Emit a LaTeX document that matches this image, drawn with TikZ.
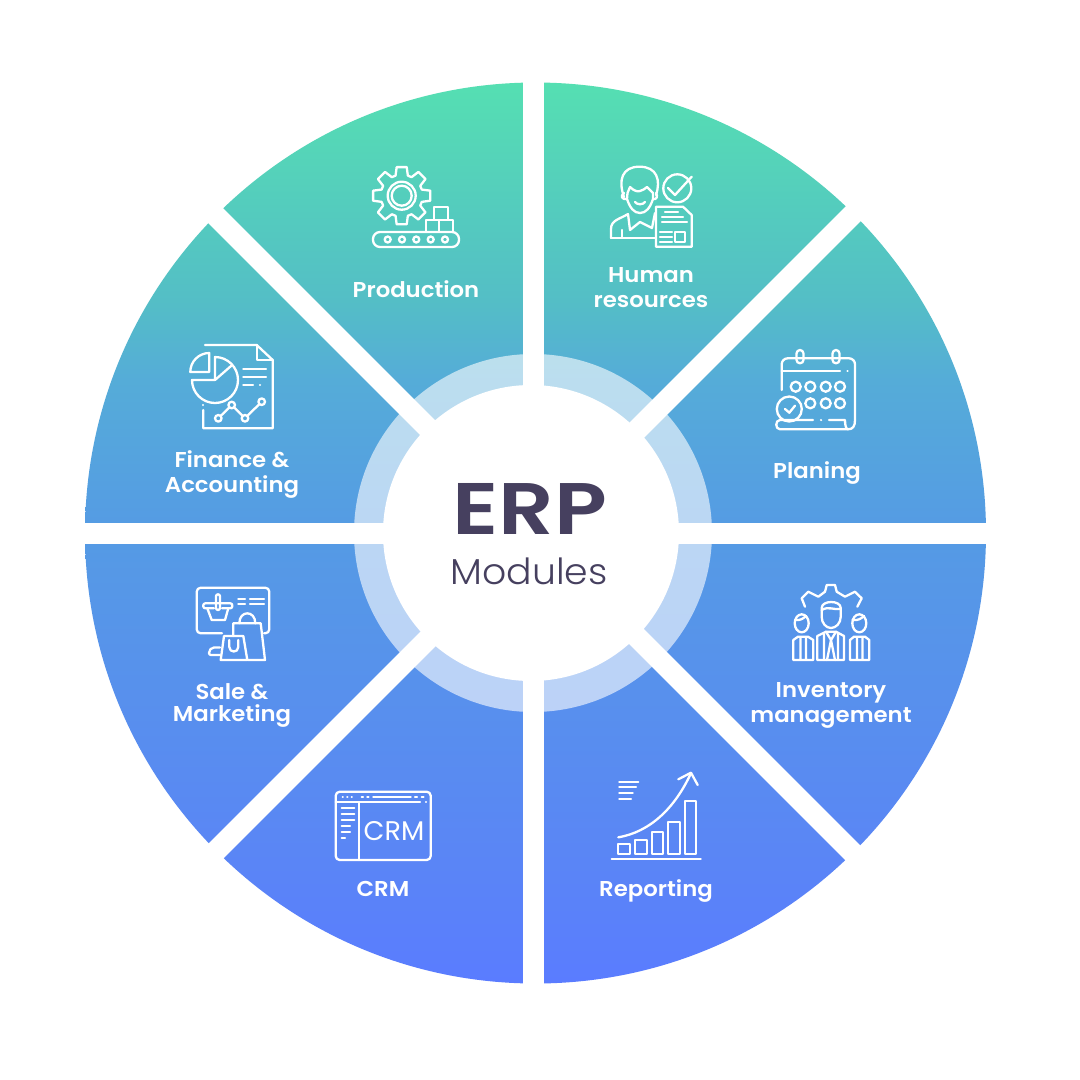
\documentclass[tikz,border=0pt]{standalone}
\usepackage{fontspec}
\setmainfont{Poppins}
\newfontfamily\labfont[FakeStretch=1.06]{Poppins SemiBold}
\newfontfamily\erpfont[FakeStretch=1.19]{Poppins SemiBold}
\newfontfamily\modfont[FakeStretch=1.05]{Poppins Light}
\definecolor{ink}{HTML}{46405F}
\definecolor{ga}{RGB}{90,124,255}
\definecolor{gb}{RGB}{90,134,245}
\definecolor{gc}{RGB}{85,155,228}
\definecolor{gd}{RGB}{85,172,216}
\definecolor{ge}{RGB}{84,190,198}
\definecolor{gf}{RGB}{85,223,178}
\pgfdeclareverticalshading{erpgrad}{100bp}{
  color(0bp)=(ga);
  color(25bp)=(ga);
  color(32.4bp)=(gb);
  color(50.2bp)=(gc);
  color(58.5bp)=(gd);
  color(62.9bp)=(ge);
  color(75bp)=(gf);
  color(100bp)=(gf)}
\tikzset{
  icon/.style={draw=white,line width=2.3pt,line cap=round,line join=round},
  lab/.style={text=white,align=center,inner sep=0pt,font=\labfont\fontsize{21.5}{25}\selectfont},
  gapbar/.style={draw=white,line width=21pt}
}
\begin{document}
\begin{tikzpicture}[x=1pt,y=-1pt]
\fill[white,use as bounding box] (0,0) rectangle (1080,1080);
% disc
\shade[shading=erpgrad] (535.5,533) circle[radius=450.5];
\fill[white,opacity=.6,even odd rule] (533,533) circle[radius=179] (533,533) circle[radius=140];
% gaps
\coordinate (gn) at (533.5,70);
\coordinate (gs) at (533.5,997);
\coordinate (gw) at (70,533.5);
\coordinate (ge) at (997,533.5);
\coordinate (gne) at (865.5,201.5);
\coordinate (gsw) at (201.5,865.5);
\coordinate (gnw) at (201.5,201.5);
\coordinate (gse) at (865.5,865.5);
\draw[gapbar] (gn) -- (gs);
\draw[gapbar] (gw) -- (ge);
\draw[gapbar] (gne) -- (gsw);
\draw[gapbar] (gnw) -- (gse);
\fill[white] (531,533) circle[radius=148];
% centre
\node[text=ink,inner sep=0pt,font=\erpfont\fontsize{73}{73}\selectfont] (erp) at (530,509) {ERP};
\node[text=ink,inner sep=0pt,font=\modfont\fontsize{36}{36}\selectfont] (mod) at (529,571) {Modules};
% labels
\node[lab] (l1) at (416,289) {Production};
\node[lab] (l2) at (651,287.5) {Human\\resources};
\node[lab] (l3) at (817,473) {Planing};
\node[lab] (l4) at (831,705) {Inventory\\management};
\node[lab] (l5) at (656,891) {Reporting};
\node[lab] (l6) at (383,889) {CRM};
\node[lab] (l7) at (232,705.5) {Sale \&\\[-3pt]Marketing};
\node[lab] (l8) at (232,474.5) {Finance \&\\Accounting};
% Production icon
\draw[icon] (401.7,195.7) circle[radius=14] (401.7,195.7) circle[radius=10];
\draw[icon,shift={(401.7,195.7)}] (-17:21) \foreach \a in {0,45,...,315}{
  -- (\a-10:29) -- (\a+10:29) -- (\a+17:21) -- (\a+28:21)} -- cycle;
\draw[icon] (434,207) rectangle (448,220) (426,220) rectangle (439,232) (439,220) rectangle (453,232);
\draw[icon,rounded corners=7pt] (373,232) rectangle (459,247);
\foreach \x in {387.7,402,416.3,430.7,445}{\draw[icon] (\x,239.5) circle[radius=3];}
% Human resources icon
\draw[icon] (624,197) .. controls (618,180) and (622,166.7) .. (639.5,166.7) .. controls (657,166.7) and (661,180) .. (656,195);
\draw[icon] (624,193) .. controls (620,196) and (622,200) .. (627,199) .. controls (630,208) and (634,213) .. (640,213) .. controls (646,213) and (650,208) .. (653,199) .. controls (657,200) and (658,196) .. (656,193);
\draw[icon] (627,199) -- (627.5,193) -- (630,187) .. controls (634,191) and (638,192) .. (640,191) .. controls (643,191) and (645,188) .. (647,187) -- (653,193) -- (653,199);
\draw[icon] (635,202) .. controls (637,205) and (643,205) .. (645,202);
\draw[icon] (611,238) -- (611,229) .. controls (611,220) and (620,219) .. (628,214);
\draw[icon] (628,214) -- (630,230) -- (640,222) -- (652,228) -- (655,213);
\draw[icon] (611,238) -- (655,238) (622,230) -- (622,238);
\draw[icon] (677.3,188.3) circle[radius=14];
\draw[icon] (668,188) -- (675,195) -- (691.7,176.7);
\draw[icon] (656,206.7) -- (683,206.7) -- (691.7,215) -- (691.7,246.7) -- (656,246.7) -- cycle;
\draw[icon] (665,211.7) -- (678,211.7) (662,216.7) -- (683,216.7) (662,221.7) -- (687,221.7);
\draw[icon] (675,231.7) rectangle (685,241.7);
\draw[icon] (660,231.7) -- (672,231.7) (660,236.7) -- (672,236.7) (660,241.7) -- (672,241.7);
% Finance icon
\draw[icon] (205,345) -- (256.7,345) -- (272.7,360) -- (272.7,428.3) -- (203.3,428.3) -- (203.3,410);
\draw[icon] (203.3,405) -- (203.3,405.1);
\draw[icon] (256.7,345) -- (256.7,360) -- (272.7,360);
\draw[icon,fill=none] (215,357) arc (-90:180:23) -- (215,380) -- cycle;
\draw[icon] (215,380) -- (231,366);
\draw[icon] (209.3,353) arc (-90:-180:19) -- (209.3,372) -- cycle;
\draw[icon] (243.3,369.3) -- (266,369.3) (243.3,376.7) -- (266,376.7) (243.3,385) -- (253,385) (260,385) -- (260.1,385);
\draw[icon] (218.3,418.3) circle[radius=3.3] (231.7,405) circle[radius=3.3] (245,418.3) circle[radius=3.3] (261.7,401.7) circle[radius=3.3];
\draw[icon] (220.6,416) -- (229.4,407.3) (234,407.3) -- (242.7,416) (247.3,416) -- (259.4,404);
% Planing icon
\draw[icon,rounded corners=6pt] (781.7,390) -- (781.7,358.3) -- (855,358.3) -- (855,420) ;
\draw[icon] (781.7,370.7) -- (840,370.7) (847.5,370.7) -- (847.6,370.7);
\draw[icon,rounded corners=3.5pt,fill=none] (796.5,350) rectangle (803.5,363.3) (832.5,350) rectangle (839.5,363.3);
\foreach \x/\y in {795.7/386.7,810.3/386.7,825.7/386.7,840/386.7,810.3/403.3,825.7/403.3,840/403.3}{\draw[icon] (\x,\y) circle[radius=5];}
\draw[icon] (789.3,409) circle[radius=12.5];
\draw[icon] (785,409) -- (789.3,412.7) -- (795,405.7);
\draw[icon] (813,420) -- (780,420) .. controls (775,420) and (775,429.3) .. (780,429.3) -- (848,429.3) .. controls (853,429.3) and (855,426) .. (855,420);
\draw[icon] (821,420) -- (821.1,420) (829,420) -- (845,420) .. controls (845,425) and (846,429.3) .. (848,429.3);
% Inventory icon
\draw[icon] (805,606.7) -- (801.7,598.3) -- (808.3,591.7) -- (818.3,596.7) -- (825,591.7) -- (826.7,585) -- (835,585) -- (836.7,591.7) -- (845,596.7) -- (855,591.7) -- (861.7,598.3) -- (857.3,606.7);
\draw[icon] (821.7,608) .. controls (821.7,600) and (840.7,600) .. (840.7,608) -- (840.7,617) .. controls (840.7,623) and (836,628) .. (831,628) .. controls (826,628) and (821.7,623) .. (821.7,617) -- cycle;
\draw[icon] (821.7,610) .. controls (828,606) and (834,610) .. (840.7,609);
\draw[icon] (817.3,660) -- (817.3,636) -- (826,631.7) -- (836,631.7) -- (844,636) -- (844,660) -- cycle;
\draw[icon] (826,631.7) -- (831,640) -- (836,631.7) (831,640) -- (827,660) (831,640) -- (835,660) (824,634) -- (824,660) (838,634) -- (838,660);
\draw[icon] (801.7,623.3) ellipse[x radius=7,y radius=9] (859.3,623.3) ellipse[x radius=7,y radius=9];
\draw[icon] (795,620) .. controls (800,621) and (804,618) .. (806,616) (852.5,620) .. controls (858,621) and (862,618) .. (864,616);
\draw[icon] (793.3,660) -- (793.3,640) -- (798,636.7) -- (808,636.7) -- (813.3,640) -- (813.3,660) -- cycle (800.5,637) -- (800.5,660) (806,637) -- (806,660);
\draw[icon] (850,660) -- (850,640) -- (854,636.7) -- (865,636.7) -- (869.3,640) -- (869.3,660) -- cycle (857,637) -- (857,660) (862.5,637) -- (862.5,660);
% Sale icon
\draw[icon,rounded corners=4pt] (222,633.3) -- (196.7,633.3) -- (196.7,587.7) -- (269.3,587.7) -- (269.3,633.3) -- (264,633.3);
\draw[icon] (207.3,608.3) -- (211.7,620) -- (225,620) -- (228.3,608.3);
\draw[icon,rounded corners=2pt] (207.3,608.3) -- (203.3,608.3) -- (203.3,603.3) -- (232.3,603.3) -- (232.3,608.3) -- (228.3,608.3) (207.3,608.3) -- (214,608.3) (222,608.3) -- (228.3,608.3);
\draw[icon,rounded corners=2pt,fill=none] (216,594.3) rectangle (220,610);
\draw[icon] (238.3,599) -- (245,599) (250,599) -- (264,599) (238.3,604.3) -- (245,604.3) (250,604.3) -- (264,604.3);
\draw[icon] (233.3,636) -- (233.3,623.3) -- (260.7,623.3) -- (265,660) -- (248,660);
\draw[icon] (239.3,623.3) .. controls (239.3,610) and (255.3,610) .. (255.3,623.3);
\draw[icon] (224,636) -- (243.3,636) -- (247.3,660) -- (220.7,660) -- cycle;
\draw[icon] (229.3,640) -- (229.3,647) .. controls (229.3,653) and (238.3,653) .. (238.3,647) -- (238.3,640);
\draw[icon,rounded corners=2pt] (220,647.5) -- (212,647.5) -- (209,651) -- (209,655) -- (220,655);
% CRM icon
\draw[icon,rounded corners=4pt] (335.7,791.7) rectangle (430.7,860);
\draw[icon] (335.7,802.3) -- (420,802.3) (426,802.3) -- (426.1,802.3) (359.3,802.3) -- (359.3,860);
\draw[icon] (342.7,797) -- (342.8,797) (347.3,797) -- (347.4,797) (351.7,797) -- (351.8,797) (361.7,797) -- (363,797) (367.3,797) -- (368.5,797) (373.3,797) -- (410.7,797) (415,797) -- (417,797) (421.7,797) -- (423.5,797);
\draw[icon] (341.7,807.7) -- (354.3,807.7) (341.7,814) -- (354.3,814) (341.7,820) -- (354.3,820) (341.7,826) -- (350,826) (341.7,832) -- (350,832) (341.7,838.3) -- (345,838.3);
\node[text=white,inner sep=0pt,font=\fontsize{27}{27}\selectfont] (crmtxt) at (394,831) {CRM};
% Reporting icon
\draw[icon] (611.7,859) -- (700.7,859);
\draw[icon] (618.3,844.3) rectangle (630,854) (635,840) rectangle (646.7,854) (651.7,831.7) rectangle (663.3,854) (668.3,821.7) rectangle (680,854) (685,800.7) rectangle (696,854);
\draw[icon] (618.3,837.3) .. controls (650,832) and (675,808) .. (691,773);
\draw[icon] (678.3,779.3) -- (691,772.7) -- (697.7,785);
\draw[icon] (619.3,781.7) -- (638.3,781.7) (619.3,787.3) -- (636,787.3) (619.3,793.3) -- (632.7,793.3) (619.3,799.3) -- (631,799.3);
\end{tikzpicture}
\end{document}
